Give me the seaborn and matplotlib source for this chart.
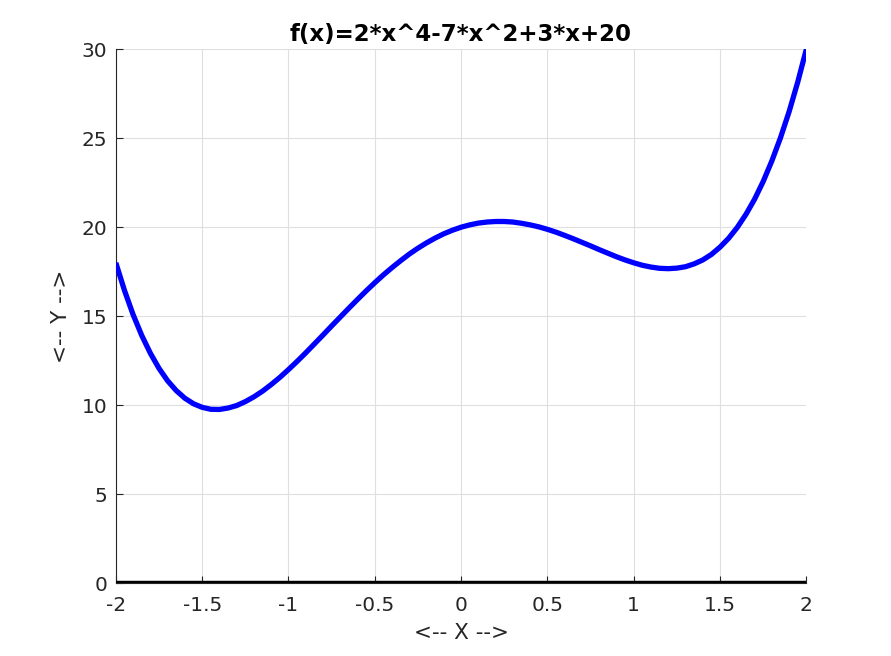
import numpy as np
import pandas as pd
import matplotlib
matplotlib.use('Agg')
import matplotlib.pyplot as plt
import seaborn as sns

# values
x_vals = [-2.0, -1.95, -1.9, -1.85, -1.8, -1.75, -1.7, -1.65, -1.6, -1.55,
          -1.5, -1.45, -1.4, -1.35, -1.3, -1.25, -1.2, -1.15, -1.1, -1.05,
          -1.0, -0.95, -0.9, -0.85, -0.8, -0.75, -0.7, -0.65, -0.6, -0.55,
          -0.5, -0.45, -0.4, -0.35, -0.3, -0.25, -0.2, -0.15, -0.1, -0.05,
          0.0, 0.05, 0.1, 0.15, 0.2, 0.25, 0.3, 0.35, 0.4, 0.45,
          0.5, 0.55, 0.6, 0.65, 0.7, 0.75, 0.8, 0.85, 0.9, 0.95,
          1.0, 1.05, 1.1, 1.15, 1.2, 1.25, 1.3, 1.35, 1.4, 1.45,
          1.5, 1.55, 1.6, 1.65, 1.7, 1.75, 1.8, 1.85, 1.9, 1.95, 2.0]
y_vals = [18.0, 16.45, 15.09, 13.92, 12.92, 12.07, 11.37, 10.82, 10.39, 10.08,
          9.88, 9.77, 9.76, 9.84, 9.98, 10.20, 10.47, 10.79, 11.16, 11.56,
          12.0, 12.46, 12.94, 13.44, 13.94, 14.45, 14.95, 15.45, 15.94, 16.42,
          16.88, 17.32, 17.73, 18.12, 18.49, 18.82, 19.12, 19.39, 19.63, 19.83,
          20.0, 20.13, 20.23, 20.29, 20.32, 20.32, 20.29, 20.22, 20.13, 20.02,
          19.88, 19.72, 19.54, 19.35, 19.15, 18.95, 18.74, 18.54, 18.34, 18.16,
          18.0, 17.86, 17.76, 17.69, 17.67, 17.70, 17.78, 17.94, 18.16, 18.47,
          18.88, 19.38, 19.99, 20.72, 21.57, 22.57, 23.72, 25.02, 26.49, 28.15, 30.0]
x_ticks = [-2, -1.5, -1, -0.5, 0, 0.5, 1, 1.5, 2]
x_ticklabels = ['-2', '-1.5', '-1', '-0.5', '0', '0.5', '1', '1.5', '2']
y_ticks = [0, 5, 10, 15, 20, 25, 30]
title = 'f(x)=2*x^4-7*x^2+3*x+20'

df = pd.DataFrame({'x': x_vals, 'y': y_vals})

sns.set_style('white')
plt.rcParams['font.family'] = ['DejaVu Sans']

fig = plt.figure(figsize=(8.91, 6.56), dpi=100)
ax = fig.add_axes([0.130, 0.111, 0.775, 0.814])

ax.grid(True, color='#dfdfdf', linewidth=0.8)
ax.set_axisbelow(True)
sns.lineplot(data=df, x='x', y='y', color='#0000ff', linewidth=3.8, ax=ax, zorder=3,
             solid_joinstyle='round', solid_capstyle='butt')
ax.axhline(0, color='black', linewidth=3.2, zorder=4)

ax.set_xlim(-2, 2)
ax.set_ylim(0, 30)
ax.set_xticks(x_ticks)
ax.set_xticklabels(x_ticklabels)
ax.set_yticks(y_ticks)
ax.tick_params(direction='in', length=5, width=0.8, labelsize=14.5, colors='#262626',
               left=True, bottom=True)
ax.tick_params(axis='x', pad=9)
ax.tick_params(axis='y', pad=6)
for s in ['top', 'right']:
    ax.spines[s].set_visible(False)
for s in ['left', 'bottom']:
    ax.spines[s].set_color('#262626')
    ax.spines[s].set_linewidth(0.8)

ax.set_xlabel('<-- X -->', fontsize=15.5, color='#262626', labelpad=6)
ax.set_ylabel('<-- Y -->', fontsize=15.5, color='#262626', labelpad=8)
ax.set_title(title, fontsize=16.5, fontweight='bold', color='black', pad=6)

fig.savefig('out.png', dpi=100)
